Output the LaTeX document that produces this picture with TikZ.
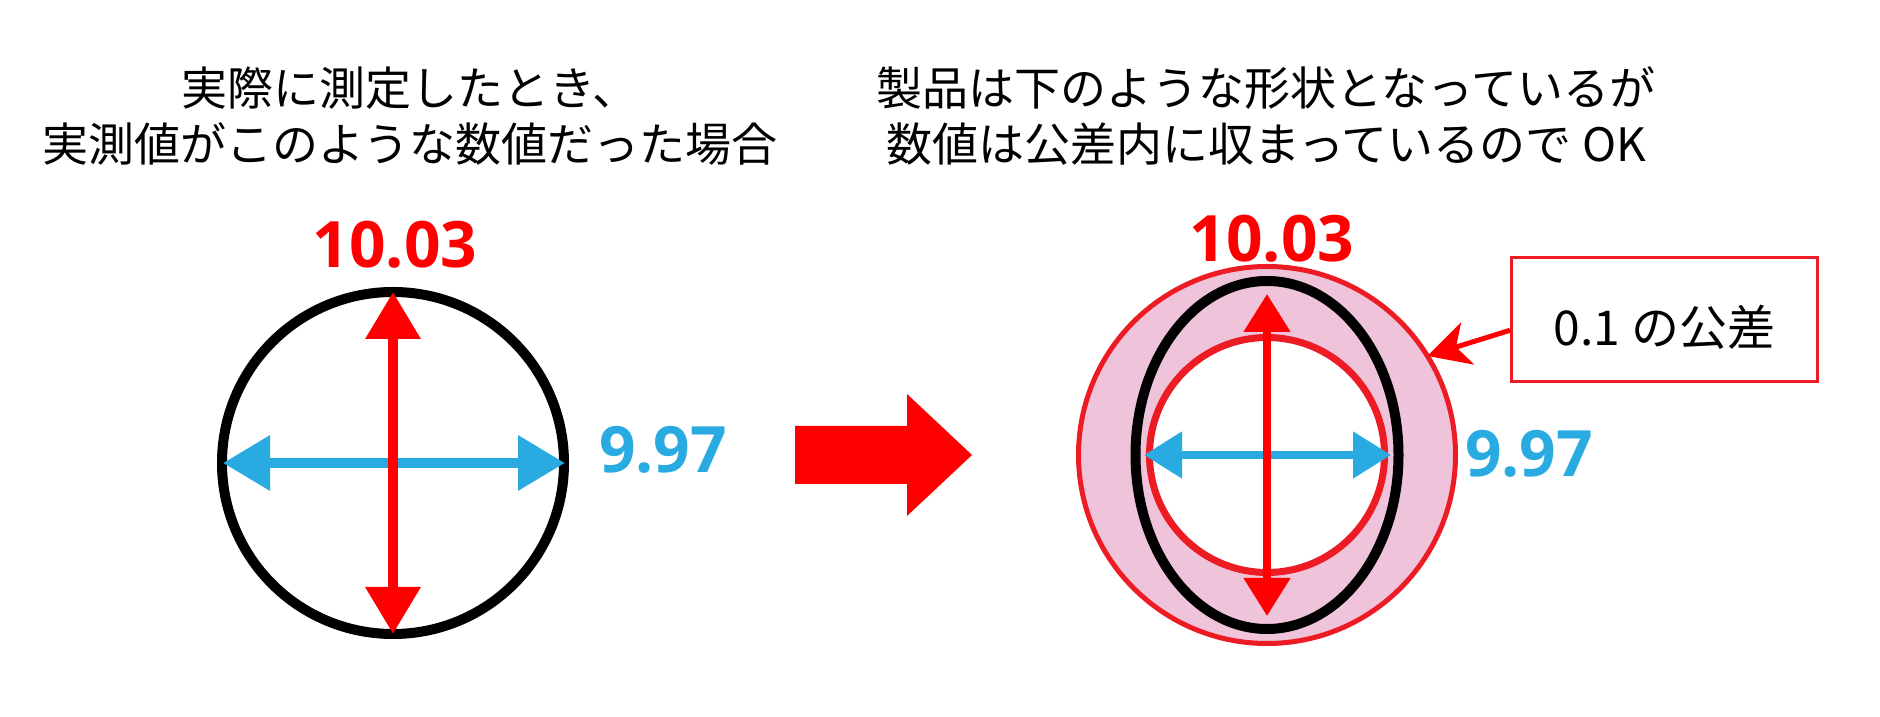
\documentclass[tikz,border=0pt]{standalone}
\usepackage{fontspec}
\setmainfont{Noto Sans CJK JP}
\newfontfamily\numfont{Open Sans}
\usetikzlibrary{arrows.meta,positioning,calc}
\definecolor{arrowred}{HTML}{FF0000}
\definecolor{linered}{HTML}{ED1C24}
\definecolor{dimblue}{HTML}{29ABE2}
\definecolor{tolpink}{HTML}{EFC4DA}
\tikzset{
        title/.style={anchor=base,inner sep=0pt,font=\fontsize{46pt}{56pt}\selectfont},
        bignum/.style={anchor=base,inner sep=0pt,font=\numfont\bfseries\fontsize{64pt}{64pt}\selectfont},
        dimA/.style={line width=10pt,{Triangle[length=47pt,width=53pt]}-{Triangle[length=47pt,width=53pt]}},
        dimB/.style={line width=8pt,{Triangle[length=38pt,width=45pt]}-{Triangle[length=38pt,width=45pt]}}
}
\begin{document}
\begin{tikzpicture}[x=1pt,y=1pt]
        \useasboundingbox (0,0) rectangle (1880,717);
        \node[title] (measA) at (410,611) {実際に測定したとき、};
        \node[title] (measB) at (410,555) {実測値がこのような数値だった場合};
        \node[title] (okA) at (1266,611) {製品は下のような形状となっているが};
        \node[title] (okB) at (1266,555) {数値は公差内に収まっているので OK};
        \coordinate (ctrA) at (393,254);
        \coordinate (topA) at (393,425);
        \coordinate (botA) at (393,83);
        \coordinate (lftA) at (223,254);
        \coordinate (rgtA) at (565,254);
        \draw[line width=10pt] (ctrA) circle [radius=171pt];
        \draw[dimA,dimblue] (lftA) -- (rgtA);
        \draw[dimA,arrowred] (botA) -- (topA);
        \node[bignum,arrowred] (valA) at (395,449) {10.03};
        \node[bignum,dimblue] (widA) at (663,244) {9.97};
        \fill[arrowred] (795,233) -- (907,233) -- (907,201) -- (972,262)
                -- (907,323) -- (907,291) -- (795,291) -- cycle;
        \coordinate (ctrB) at (1267,262);
        \coordinate (topB) at (1267,423);
        \coordinate (botB) at (1267,101);
        \coordinate (lftB) at (1144,262);
        \coordinate (rgtB) at (1391,262);
        \draw[linered,line width=5pt,fill=tolpink] (ctrB) circle [radius=188.5pt];
        \draw[linered,line width=7pt,fill=white] (ctrB) circle [radius=117.5pt];
        \draw[line width=10pt] (ctrB) ellipse [x radius=131.5pt,y radius=174pt];
        \draw[dimB,dimblue] (lftB) -- (rgtB);
        \draw[dimB,arrowred] (botB) -- (topB);
        \node[bignum,arrowred] (valB) at (1272,455) {10.03};
        \node[bignum,dimblue] (widB) at (1529,240) {9.97};
        \node[draw=linered,line width=3pt,minimum width=306pt,minimum height=124pt,inner sep=0pt,
                text height=53pt,text depth=0pt,font=\fontsize{48pt}{48pt}\selectfont] (tolbox) at (1664.5,397.5) {0.1 の公差};
        \coordinate (tolpt) at ($(ctrB)+(31.7:188.5pt)$);
        \draw[arrowred,line width=5pt,-{Stealth[length=42pt,width=44pt,inset=12pt]}] (tolbox.184) -- (tolpt);
\end{tikzpicture}
\end{document}
